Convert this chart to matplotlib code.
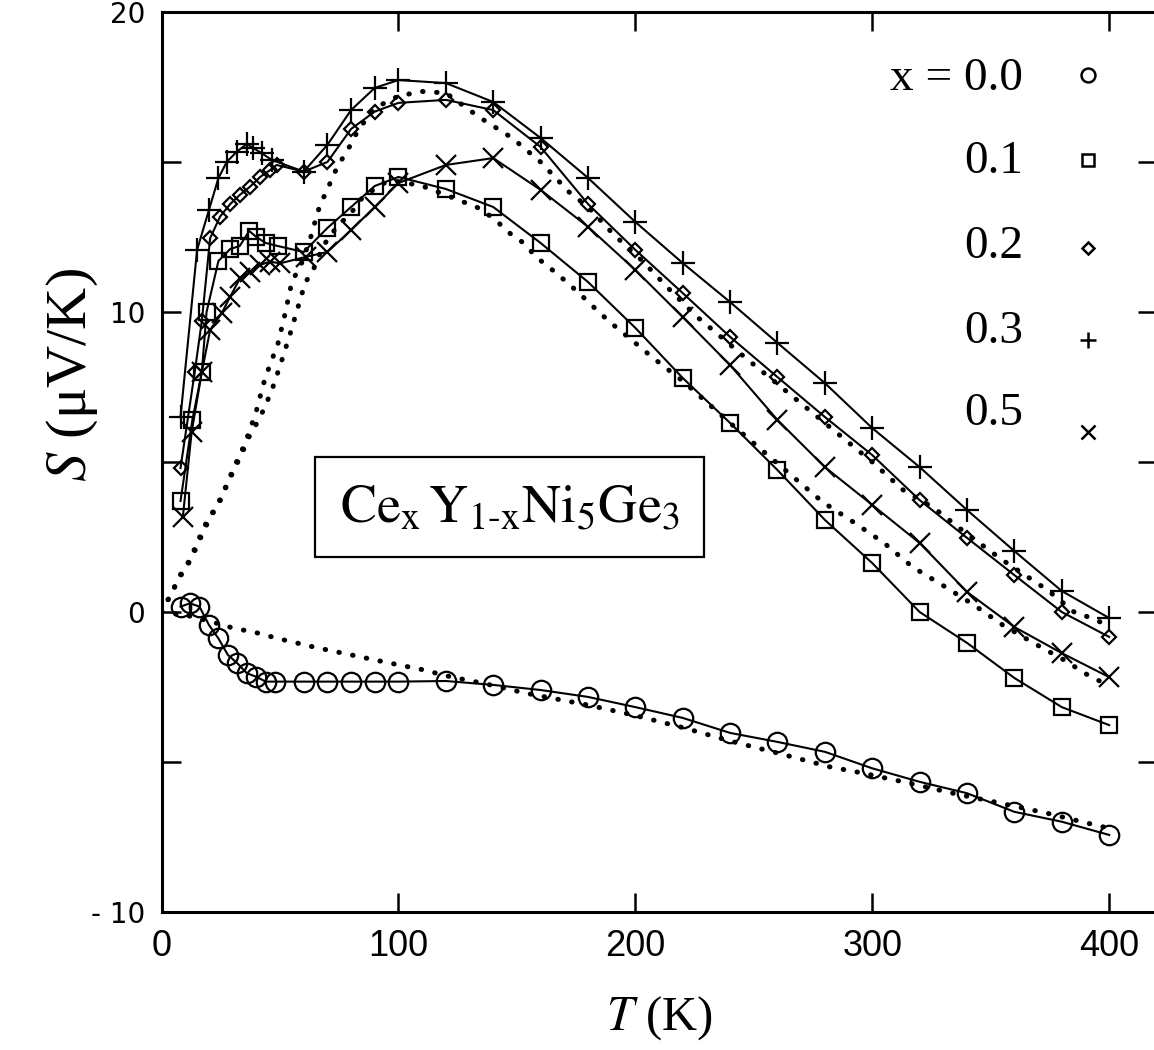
"""Thermopower S(T) of CexY1-xNi5Ge3 for several Ce concentrations."""

import matplotlib

matplotlib.use("Agg")
import matplotlib.pyplot as plt
from matplotlib.ticker import FixedLocator, FixedFormatter

# measured data, one list pair per concentration
T_x00 = [8, 12, 16, 20, 24, 28, 32, 36, 40, 44, 48, 60, 70, 80, 90, 100, 120, 140, 160,
         180, 200, 220, 240, 260, 280, 300, 320, 340, 360, 380, 400]
S_x00 = [0.18, 0.29, 0.18, -0.43, -0.88, -1.43, -1.71, -2.04, -2.16, -2.32, -2.32, -2.32,
         -2.32, -2.32, -2.32, -2.32, -2.3, -2.43, -2.6, -2.83, -3.17, -3.53, -4.03, -4.33,
         -4.66, -5.21, -5.66, -6.04, -6.66, -6.99, -7.43]

T_x01 = [8, 13, 17, 19, 24, 29, 33, 37, 40, 44, 49, 60, 70, 80, 90, 100, 120, 140, 160,
         180, 200, 220, 240, 260, 280, 300, 320, 340, 360, 380, 400]
S_x01 = [3.7, 6.4, 8.0, 10.0, 11.7, 12.1, 12.2, 12.7, 12.5, 12.3, 12.2, 12.0, 12.8, 13.5,
         14.2, 14.5, 14.1, 13.5, 12.3, 11.0, 9.47, 7.8, 6.3, 4.73, 3.07, 1.63, 0.0, -1.03,
         -2.2, -3.17, -3.77]

T_x02 = [8, 14, 17, 20.5, 24.7, 29, 33, 37.4, 41.6, 45.8, 48.6, 60, 70, 80, 90, 100, 120,
         140, 160, 180, 200, 220, 240, 260, 280, 300, 320, 340, 360, 380, 400]
S_x02 = [4.8, 8.0, 9.7, 12.46, 13.18, 13.6, 13.9, 14.18, 14.5, 14.73, 14.9, 14.68, 15.0,
         16.1, 16.68, 16.97, 17.07, 16.73, 15.5, 13.6, 12.07, 10.63, 9.17, 7.83, 6.5, 5.23,
         3.73, 2.47, 1.23, 0.0, -0.83]

T_x03 = [8, 15, 20, 24, 27.5, 31.7, 36, 38.8, 42.3, 46.5, 60, 70, 80, 90, 100, 120, 140,
         160, 180, 200, 220, 240, 260, 280, 300, 320, 340, 360, 380, 400]
S_x03 = [6.5, 12.07, 13.4, 14.46, 15.0, 15.34, 15.6, 15.46, 15.29, 15.07, 14.68, 15.57,
         16.73, 17.47, 17.73, 17.63, 17.0, 15.8, 14.47, 13.0, 11.63, 10.33, 8.97, 7.63,
         6.13, 4.83, 3.4, 2.03, 0.7, -0.2]

T_x05 = [9, 12.7, 17, 20.5, 25.4, 28.9, 33.1, 37.4, 41.6, 45.8, 50, 61, 70, 80, 90, 100,
         120, 140, 160, 180, 200, 220, 240, 260, 280, 300, 320, 340, 360, 380, 400]
S_x05 = [3.18, 6.0, 8.0, 9.4, 9.96, 10.5, 11.12, 11.34, 11.57, 11.68, 11.62, 11.84, 12.0,
         12.73, 13.5, 14.3, 14.9, 15.13, 14.07, 12.84, 11.4, 9.83, 8.23, 6.4, 4.83, 3.57,
         2.3, 0.67, -0.5, -1.37, -2.17]

# dotted model curves
T_fit0 = [0, 10, 20, 30, 40, 50, 65, 80, 95, 110, 122, 136, 154, 180, 200, 220, 240, 260,
          282, 296, 316, 334, 354, 374, 391, 400]
S_fit0 = [0, -0.1, -0.3, -0.53, -0.69, -0.9, -1.18, -1.43, -1.68, -1.92, -2.16, -2.38,
          -2.71, -3.1, -3.45, -3.85, -4.3, -4.7, -5.16, -5.37, -5.71, -6.04, -6.37, -6.71,
          -7.04, -7.21]

T_fit1 = [0, 4, 8, 12, 15, 18, 21, 25, 28, 31, 34, 37, 40, 43, 46, 49, 52, 55, 59, 63, 65,
          67, 70, 72.5, 76, 80, 83, 90, 100, 110, 120, 134, 148, 160, 172, 180, 191, 203,
          215, 226, 236, 245, 260, 280, 300, 313, 326, 340, 355, 374, 386, 393, 400]
S_fit1 = [0, 0.6, 1.25, 1.75, 2.3, 2.85, 3.25, 3.8, 4.35, 4.9, 5.4, 6.0, 6.7, 7.6, 8.3, 8.9,
          9.9, 11.0, 11.6, 12.5, 13.07, 13.6, 14.07, 14.57, 15.07, 15.6, 16.07, 16.8, 17.2,
          17.35, 17.3, 16.5, 15.8, 15.0, 14.0, 13.5, 12.57, 11.7, 10.7, 9.84, 9.18, 8.57,
          7.6, 6.3, 5.0, 4.07, 3.47, 2.6, 1.73, 0.73, -0.05, -0.2, -0.49]

T_fit2 = [0, 4, 8, 12, 15, 18, 21, 25, 28, 31, 34, 37, 41, 44, 47, 50, 54, 58.5, 60.6, 64,
          68, 74, 80, 85, 93.6, 100, 110, 120, 134, 141, 146, 153, 158, 165, 171, 177, 183,
          189, 195, 201, 207, 220, 240, 260, 279, 292, 305, 317, 331, 343, 355, 368, 381,
          393, 400]
S_fit2 = [0, 0.6, 1.2, 1.7, 2.2, 2.75, 3.2, 3.75, 4.3, 4.8, 5.3, 5.85, 6.4, 6.9, 7.5, 8.2,
          9.2, 10.4, 10.97, 11.4, 12.18, 12.84, 13.3, 13.84, 14.29, 14.35, 14.2, 13.9,
          13.46, 13.07, 12.68, 12.29, 11.84, 11.4, 11.0, 10.57, 10.12, 9.68, 9.29, 8.9,
          8.5, 7.7, 6.3, 4.95, 3.67, 3.0, 2.3, 1.5, 0.83, 0.23, -0.43, -1.03, -1.6, -2.2,
          -2.43]

LEGEND_LABELS = ["x = 0.0", "0.1", "0.2", "0.3", "0.5"]
Y_TICKS = [-10, -5, 0, 5, 10, 15, 20]
Y_TICK_LABELS = ["- 10", "", "0", "", "10", "", "20"]
X_TICKS = [0, 100, 200, 300, 400]

SERIF = ["Liberation Serif", "DejaVu Serif"]

plt.rcParams["mathtext.fontset"] = "stix"


def main() -> None:
    fig = plt.figure(figsize=(11.54, 10.5), dpi=100)
    ax = fig.add_axes([0.14, 0.1314, 0.8622, 0.8572])

    lw = 1.5
    series = [
        (T_x00, S_x00, dict(marker="o", ms=14)),
        (T_x01, S_x01, dict(marker="s", ms=12)),
        (T_x02, S_x02, dict(marker="D", ms=7)),
        (T_x03, S_x03, dict(marker="+", ms=17)),
        (T_x05, S_x05, dict(marker="x", ms=15)),
    ]
    for t, s, style in series:
        ax.plot(t, s, color="black", lw=lw, mfc="none", mec="black", mew=1.6,
                zorder=3, **style)

    dot_style = dict(color="black", lw=3.6, ls=(0, (0.1, 2.7)),
                     dash_capstyle="round", zorder=2)
    for t, s in [(T_fit0, S_fit0), (T_fit1, S_fit1), (T_fit2, S_fit2)]:
        ax.plot(t, s, **dot_style)

    ax.set_xlim(0, 420)
    ax.set_ylim(-10, 20)

    for side in ["left", "bottom", "top", "right"]:
        ax.spines[side].set_linewidth(2.2)

    ax.xaxis.set_major_locator(FixedLocator(X_TICKS))
    ax.yaxis.set_major_locator(FixedLocator(Y_TICKS))
    ax.yaxis.set_major_formatter(FixedFormatter(Y_TICK_LABELS))
    ax.tick_params(direction="in", length=14, width=1.8, top=True, right=True)
    ax.tick_params(axis="x", pad=12, labelsize=26,
                   labelfontfamily=["Liberation Sans Narrow", "Liberation Sans"])
    ax.tick_params(axis="y", pad=12, labelsize=20, labelfontfamily="DejaVu Sans")

    ax.set_xlabel("$T$ (K)", family=SERIF, fontsize=35, labelpad=22)
    ax.set_ylabel("$S$ (μV/K)", family=SERIF, fontsize=42)
    ax.yaxis.set_label_coords(-0.062, 0.597)

    # legend drawn by hand: label on the left, marker on the right
    leg_text_y = [0.926, 0.8336, 0.739, 0.645, 0.554]
    leg_mark_y = [0.930, 0.8356, 0.7378, 0.6356, 0.5333]
    leg_marks = [("o", 10), ("s", 9), ("D", 6.5), ("+", 12), ("x", 10)]
    for label, ty, my, (m, ms) in zip(LEGEND_LABELS, leg_text_y, leg_mark_y, leg_marks):
        ax.text(0.866, ty, label, transform=ax.transAxes, ha="right", va="center",
                family=SERIF, fontsize=34)
        ax.plot([0.931], [my], marker=m, ms=ms, mfc="none", mec="black", mew=1.8,
                transform=ax.transAxes, clip_on=False)

    ax.text(0.35, 0.45, r"$\mathrm{Ce_x\,Y_{1\text{-}x}Ni_5Ge_3}$",
            transform=ax.transAxes, ha="center", va="center", fontsize=39,
            bbox=dict(boxstyle="square,pad=0.45", fc="white", ec="black", lw=1.6))

    fig.savefig("out.png", dpi=100)


if __name__ == "__main__":
    main()
